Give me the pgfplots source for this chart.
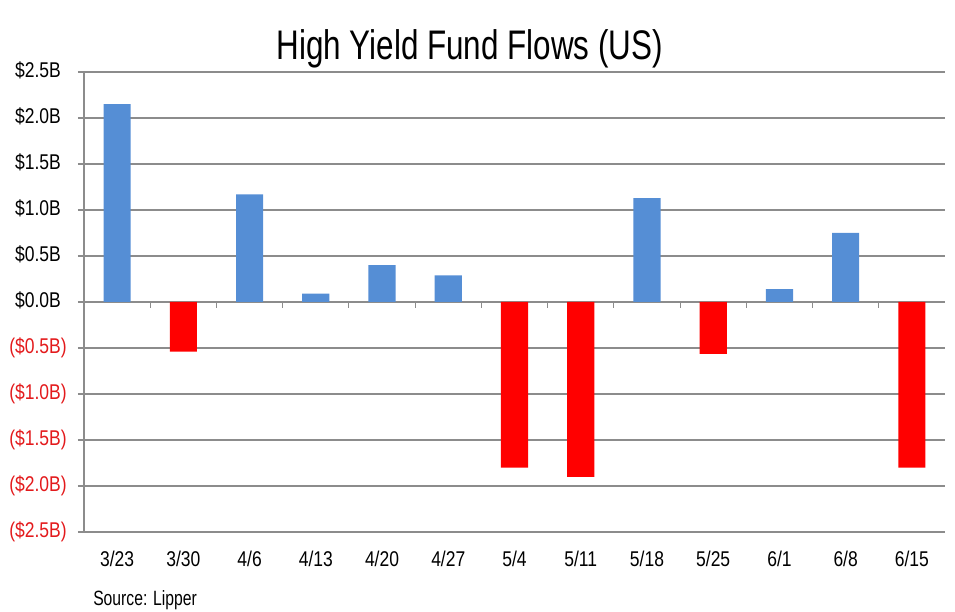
\documentclass[border=0pt]{standalone}
\usepackage{pgfplots}
\pgfplotsset{compat=1.18}
\usepackage{fontspec}
\setmainfont{Liberation Sans}[FakeStretch=0.76]
\newfontfamily\tickfont{Liberation Sans}[FakeStretch=0.82]

\definecolor{posblue}{HTML}{558ED5}
\definecolor{negred}{HTML}{FF0000}
\definecolor{labred}{HTML}{E31A1C}
\definecolor{gridgray}{HTML}{8C8C8C}

\begin{document}
\begin{tikzpicture}
\begin{axis}[
width=645.75pt,
height=345pt,
scale only axis,
xmin=-0.5, xmax=12.5,
ymin=-2.5, ymax=2.5,
axis x line*=bottom,
axis y line*=left,
x axis line style={draw=none},
y axis line style={draw=gridgray, line width=0.8pt},
xtick={0,...,12},
xticklabels={3/23,3/30,4/6,4/13,4/20,4/27,5/4,5/11,5/18,5/25,6/1,6/8,6/15},
major x tick style={draw=none},
ytick={-2.5,-2,-1.5,-1,-0.5,0,0.5,1,1.5,2,2.5},
yticklabels={{\color{labred}(\$2.5B)},{\color{labred}(\$2.0B)},{\color{labred}(\$1.5B)},{\color{labred}(\$1.0B)},{\color{labred}(\$0.5B)},
  \$0.0B\phantom{)},\$0.5B\phantom{)},\$1.0B\phantom{)},\$1.5B\phantom{)},\$2.0B\phantom{)},\$2.5B\phantom{)}},
y tick style={draw=gridgray, line width=0.8pt},
tick align=outside,
major tick length=4.5pt,
ymajorgrids,
grid style={draw=gridgray, line width=0.8pt},
tick label style={font=\tickfont\fontsize{16pt}{18pt}\selectfont},
yticklabel style={xshift=-5pt},
xticklabel style={yshift=-6.5pt},
ybar,
bar width=0.41,
bar shift=0pt,
clip=false,
]
\addplot[fill=posblue, draw=none] coordinates {
(0,2.15) (2,1.17) (3,0.09) (4,0.40) (5,0.29) (8,1.13) (10,0.14) (11,0.75)
};
\addplot[fill=negred, draw=none] coordinates {
(1,-0.54) (6,-1.80) (7,-1.90) (9,-0.565) (12,-1.80)
};
\pgfplotsinvokeforeach{0.5,1.5,2.5,3.5,4.5,5.5,6.5,7.5,8.5,9.5,10.5,11.5}{
  \draw[gridgray, line width=0.8pt] (axis cs:#1,0) -- ++(0pt,-4.5pt);
}
\node[anchor=base, font=\fontsize{31pt}{36pt}\selectfont, yshift=9pt]
  at (rel axis cs:0.448,1) {High Yield Fund Flows (US)};
\node[anchor=base west, font=\fontsize{15.5pt}{18pt}\selectfont, inner sep=0pt]
  at ([xshift=6.75pt, yshift=-55pt]rel axis cs:0,0) {Source: Lipper};
\end{axis}
\path (current axis.south west) +(-63pt,-60pt) (current axis.north east) +(7.5pt,54pt);
\end{tikzpicture}
\end{document}
